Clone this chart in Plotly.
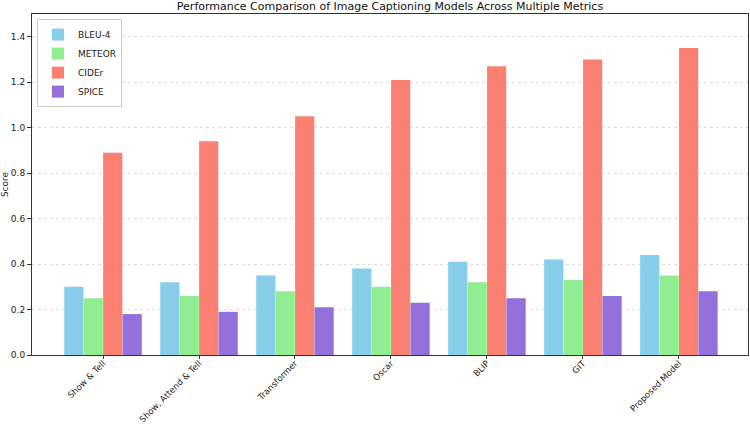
import plotly.graph_objects as go

models = ["Show & Tell", "Show, Attend & Tell", "Transformer", "Oscar", "BLIP", "GIT", "Proposed Model"]
bleu4 = [0.30, 0.32, 0.35, 0.38, 0.41, 0.42, 0.44]
meteor = [0.25, 0.26, 0.28, 0.30, 0.32, 0.33, 0.35]
cider = [0.89, 0.94, 1.05, 1.21, 1.27, 1.30, 1.35]
spice = [0.18, 0.19, 0.21, 0.23, 0.25, 0.26, 0.28]

series = [("BLEU-4", bleu4, "#87CEEB"), ("METEOR", meteor, "#90EE90"),
          ("CIDEr", cider, "#FA8072"), ("SPICE", spice, "#9370DB")]

fig = go.Figure()
for name, vals, col in series:
    fig.add_trace(go.Bar(x=list(range(len(models))), y=vals, name=name,
                         marker=dict(color=col, line=dict(width=0)), width=0.2))

fig.update_layout(
    width=750, height=428,
    margin=dict(l=32, r=2, t=14, b=73, autoexpand=False),
    barmode="group", bargap=0.19, bargroupgap=0,
    plot_bgcolor="white", paper_bgcolor="white",
    font=dict(family="DejaVu Sans", size=9, color="#222"),
    title=dict(text="Performance Comparison of Image Captioning Models Across Multiple Metrics",
               x=0.52, xanchor="center", y=0.995, yanchor="top", font=dict(size=11, color="#111")),
    legend=dict(x=0.007, y=0.985, xanchor="left", yanchor="top", bgcolor="rgba(255,255,255,0.8)",
                bordercolor="#ccc", borderwidth=1, font=dict(size=9), itemwidth=30, tracegroupgap=0),
    xaxis=dict(tickmode="array", tickvals=list(range(len(models))), ticktext=models,
               range=[-0.74, 6.72], tickangle=-45, ticks="outside", ticklen=3, tickcolor="#333",
               ticklabelstandoff=-4, tickfont=dict(size=8.6),
               showline=True, linecolor="#333", linewidth=1, mirror=True, showgrid=False,
               zeroline=False, automargin=False),
    yaxis=dict(title=dict(text="Score", standoff=4, font=dict(size=9)), range=[0, 1.5], dtick=0.2,
               tickformat=".1f", ticks="outside", ticklen=4, tickcolor="#333",
               showline=True, linecolor="#333", linewidth=1, mirror=True, automargin=False,
               showgrid=True, gridcolor="#dcdcdc", griddash="dot", gridwidth=0.8, zeroline=False),
)

fig.write_html("out.html")
